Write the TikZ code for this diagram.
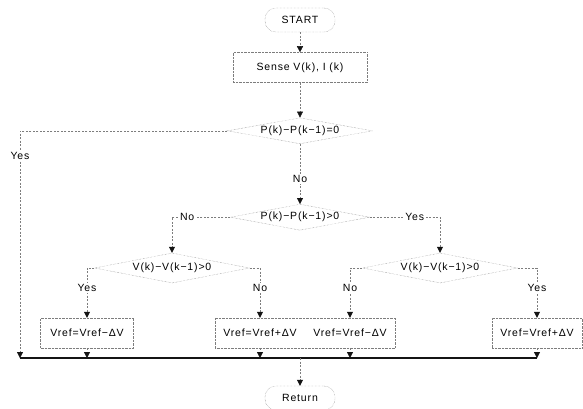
\documentclass[tikz,border=0pt]{standalone}
\usepackage{fontspec}
\setmainfont[LetterSpace=8]{Liberation Sans}
\usetikzlibrary{arrows.meta,positioning,shapes.geometric}
\definecolor{ink}{RGB}{20,20,20}
\definecolor{faint}{RGB}{125,125,125}
\tikzset{term/.style={draw=faint,densely dotted,rounded corners=11pt,minimum width=70pt,minimum height=24pt,inner sep=2pt},proc/.style={draw=faint,densely dotted,minimum width=90pt,minimum height=30pt,inner sep=2pt},dec/.style={diamond,draw=faint,densely dotted,aspect=5.5,inner sep=0.5pt,minimum width=145pt,minimum height=26pt},flow/.style={-{Triangle[length=6pt,width=6pt,color=ink,fill=ink]},draw=faint,dash pattern=on 2pt off 1.5pt},bus/.style={draw=ink,line width=1.1pt},lbl/.style={fill=white,inner sep=1.5pt}}

\begin{document}
\begin{tikzpicture}[x=1pt,y=-1pt,font=\fontsize{10.5}{12}\selectfont]
\useasboundingbox (0,0) rectangle (583,408);
\node[term] (start) at (300,20) {START};
\node[proc,minimum width=134pt,below=20pt of start] (sense) {Sense V(k), I (k)};
\node[dec,below=35pt of sense] (pzero) {P(k)−P(k−1)=0};
\node[dec,minimum width=134pt,below=60pt of pzero] (ppos) {P(k)−P(k−1)>0};
\node[dec,minimum width=155pt,minimum height=30pt] (vleft) at (172,268) {V(k)−V(k−1)>0};
\node[dec,minimum width=155pt,minimum height=30pt] (vright) at (440,268) {V(k)−V(k−1)>0};
\node[proc,minimum width=93pt] (decl) at (87,333) {Vref=Vref−ΔV};
\node[proc,draw=none] (incl) at (260,333) {Vref=Vref+ΔV};
\node[proc,draw=none] (decr) at (350,333) {Vref=Vref−ΔV};
\node[proc] (incr) at (537,333) {Vref=Vref+ΔV};
\draw[draw=faint,densely dotted] (incl.north west) rectangle (decr.south east);
\coordinate (busl) at (20,358);
\coordinate (busr) at (537,358);
\coordinate (busm) at (300,358);
\node[term] (ret) at (300,398) {Return};
% main line
\draw[flow] (start)--(sense);
\draw[flow] (sense)--(pzero);
\draw[flow] (pzero)--node[lbl,pos=0.58]{No}(ppos);
\draw[flow] (pzero.west)-|node[lbl,pos=0.555]{Yes}(busl);
\draw[flow] (ppos.west)-|node[lbl,pos=0.37]{No}(vleft.north);
\draw[flow] (ppos.east)-|node[lbl,pos=0.32]{Yes}(vright.north);
\draw[flow] (vleft.west)-|node[lbl,pos=0.7]{Yes}(decl.north);
\draw[flow] (vleft.east)-|node[lbl,pos=0.7]{No}(incl.north);
\draw[flow] (vright.west)-|node[lbl,pos=0.7]{No}(decr.north);
\draw[flow] (vright.east)-|node[lbl,pos=0.7]{Yes}(incr.north);
% collect
\draw[flow] (decl.south)--(decl.south|-busl);
\draw[flow] (incl.south)--(incl.south|-busl);
\draw[flow] (decr.south)--(decr.south|-busl);
\draw[flow] (incr.south)--(incr.south|-busl);
\draw[bus] (busl)--(busr);
\draw[flow] (busm)--(ret);
\end{tikzpicture}
\end{document}
